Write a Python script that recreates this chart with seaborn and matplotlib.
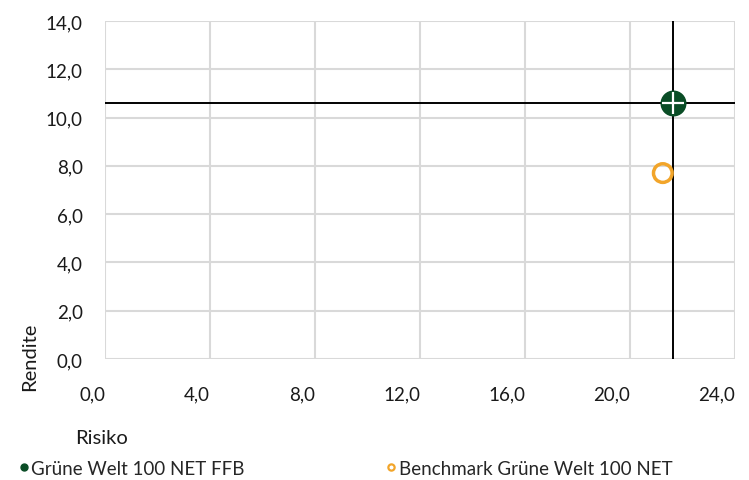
import matplotlib
matplotlib.use("Agg")
import matplotlib.pyplot as plt
import seaborn as sns
import pandas as pd
from matplotlib.lines import Line2D

# data
names = ["Grüne Welt 100 NET FFB", "Benchmark Grüne Welt 100 NET"]
risiko = [21.65, 21.25]
rendite = [10.6, 7.7]
x_ticks = [0, 4, 8, 12, 16, 20, 24]
y_ticks = [0, 2, 4, 6, 8, 10, 12, 14]

df = pd.DataFrame({"Risiko": risiko, "Rendite": rendite, "Name": names})

sns.set_style("white")
plt.rcParams['font.family'] = ['Lato', 'DejaVu Sans']

green = "#0A4D26"
orange = "#F2A52A"
grid_c = "#D9D9D9"
txt_c = "#1A1A1A"

fig = plt.figure(figsize=(7.49, 4.81), dpi=100)
ax = fig.add_axes([0.1402, 0.2516, 0.8411, 0.7027])

# crosshair through the fund
ax.axhline(rendite[0], color="black", lw=1.4, zorder=2)
ax.axvline(risiko[0], color="black", lw=1.4, zorder=2)

sns.scatterplot(data=df.iloc[[0]], x="Risiko", y="Rendite", ax=ax, s=300,
                color=green, edgecolor=green, zorder=3, legend=False)
ax.scatter(df["Risiko"][:1], df["Rendite"][:1], marker="+", s=250, color="white",
           linewidths=1.6, zorder=4)
sns.scatterplot(data=df.iloc[[1]], x="Risiko", y="Rendite", ax=ax, s=180,
                facecolor="none", edgecolor=orange, linewidth=2.5, zorder=3, legend=False)

ax.set_xlim(0, 24)
ax.set_ylim(0, 14)
ax.set_xticks(x_ticks)
ax.set_yticks(y_ticks)
ax.set_xticklabels([f"{v:.1f}".replace(".", ",") for v in x_ticks], fontsize=13.5, ha="right")
ax.set_yticklabels([f"{v:.1f}".replace(".", ",") for v in y_ticks], fontsize=13.5)
ax.grid(True, color=grid_c, lw=1.5, zorder=0)
ax.set_axisbelow(True)
ax.tick_params(axis="x", length=9, width=1.5, pad=10, labelcolor=txt_c)
ax.tick_params(axis="y", length=10, width=1.5, pad=6, labelcolor=txt_c)
ax.tick_params(axis="both", color=grid_c)
for s in ax.spines.values():
    s.set_visible(False)

ax.set_xlabel("")
ax.set_ylabel("")
fig.text(0.100, 0.089, "Risiko", fontsize=14.5, ha="left", va="center", color=txt_c)
fig.text(0.040, 0.187, "Rendite", fontsize=14.5, rotation=90, ha="center", va="bottom", color=txt_c)

handles = [
    Line2D([], [], ls="", marker="o", markersize=5, color=green, label=names[0]),
    Line2D([], [], ls="", marker="o", markersize=4.5, markerfacecolor="none",
           markeredgecolor=orange, markeredgewidth=1.6, label=names[1]),
]
fig.legend(handles=handles, loc="lower left", bbox_to_anchor=(0.003, -0.025), ncol=2,
           frameon=False, fontsize=13.5, handletextpad=0.05, handlelength=0.7,
           columnspacing=7.45, borderaxespad=0.4)

fig.savefig("out.png", dpi=100)
